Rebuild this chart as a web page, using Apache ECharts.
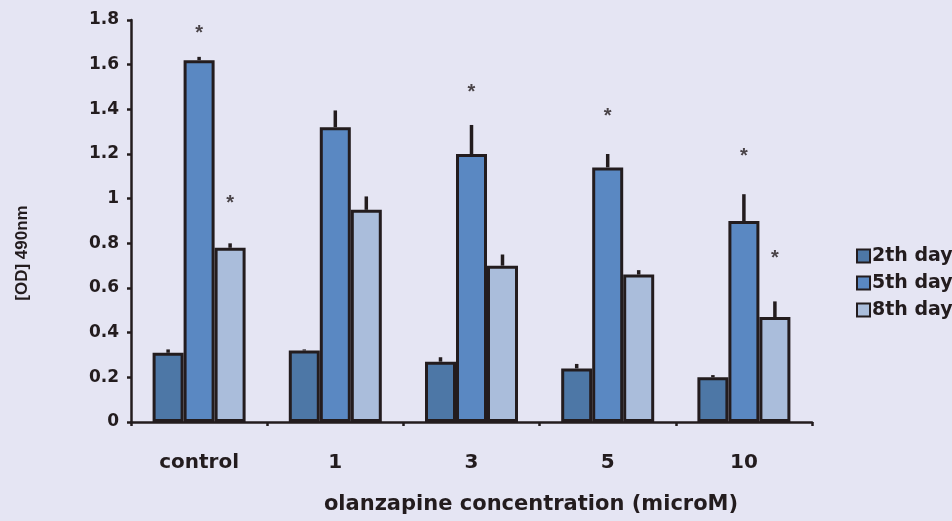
<!DOCTYPE html>
<html>
<head>
<meta charset="utf-8">
<script src="https://cdn.jsdelivr.net/npm/echarts@6/dist/echarts.min.js"></script>
<style>
html,body{margin:0;padding:0;background:#e5e5f3;}
#c{width:952px;height:521px;}
</style>
</head>
<body>
<div id="c"></div>
<script>
var categories = ['control', '1', '3', '5', '10'];
var seriesNames = ['2th day', '5th day', '8th day'];
var day2 = [0.31, 0.32, 0.27, 0.24, 0.20];
var day5 = [1.62, 1.32, 1.20, 1.14, 0.90];
var day8 = [0.78, 0.95, 0.70, 0.66, 0.47];
var err2 = [0.015, 0.005, 0.02, 0.02, 0.01];
var err5 = [0.015, 0.075, 0.13, 0.06, 0.12];
var err8 = [0.02, 0.06, 0.05, 0.02, 0.07];
var star5 = [1.76, null, 1.50, 1.39, 1.21];
var star8 = [1.00, null, null, null, 0.755];
var yTicks = [0, 0.2, 0.4, 0.6, 0.8, 1, 1.2, 1.4, 1.6, 1.8];
var xTitle = 'olanzapine concentration (microM)';
var yTitle = '[OD] 490nm';

var colors = ['#4d77a6', '#5a88c2', '#aabddb'];
var BW = 31;
var ink = '#231c1e';
var wide = '"DejaVu Sans", sans-serif';
var arial = '"Liberation Sans", Arial, sans-serif';

var chart = echarts.init(document.getElementById('c'));

function barSeries(i, data) {
  return {
    type: 'bar', name: seriesNames[i], data: data,
    barWidth: BW, barGap: '0%',
    itemStyle: { color: colors[i], borderColor: ink, borderWidth: 3 },
    z: 2
  };
}
function errSeries(i, vals, errs) {
  var d = vals.map(function (v, k) { return [k, v, errs[k]]; });
  return {
    type: 'custom', data: d, z: 3, silent: true,
    renderItem: function (params, api) {
      var k = api.value(0), v = api.value(1), e = api.value(2);
      var p0 = api.coord([k, v]);
      var p1 = api.coord([k, v + e]);
      var x = p0[0] + (i - 1) * BW;
      return { type: 'line', shape: { x1: x, y1: p0[1], x2: x, y2: p1[1] },
        style: { stroke: ink, lineWidth: 3.5 } };
    }
  };
}
function starSeries(i, vals) {
  var d = [];
  vals.forEach(function (v, k) { if (v != null) d.push([k, v]); });
  return {
    type: 'custom', data: d, z: 4, silent: true,
    renderItem: function (params, api) {
      var p = api.coord([api.value(0), api.value(1)]);
      return { type: 'text', x: p[0] + (i - 1) * BW, y: p[1] + 5,
        style: { text: '*', fill: '#4a4448', font: 'bold 20px ' + arial, align: 'center', verticalAlign: 'middle' } };
    }
  };
}

chart.setOption({
  backgroundColor: '#e5e5f3',
  animation: false,
  grid: { left: 131, right: 140, top: 20, bottom: 99 },
  legend: {
    orient: 'vertical', left: 851, top: 241,
    itemWidth: 13, itemHeight: 13, itemGap: 7,
    textStyle: { fontFamily: wide, fontWeight: 'bold', fontSize: 19, lineHeight: 20, color: ink, padding: [0, 0, 0, -3] },
    data: seriesNames.map(function (n) { return { name: n, icon: 'rect' }; })
  },
  xAxis: {
    type: 'category', data: categories,
    axisLine: { lineStyle: { color: ink, width: 2.5 } },
    axisTick: { show: true, alignWithLabel: false, length: 4, lineStyle: { color: ink, width: 2.5 } },
    axisLabel: { fontFamily: wide, fontWeight: 'bold', fontSize: 20, color: ink, margin: 31 }
  },
  yAxis: {
    type: 'value', min: 0, max: 1.8, interval: 0.2,
    axisLine: { show: true, lineStyle: { color: ink, width: 2.5 } },
    axisTick: { show: true, length: 4, lineStyle: { color: ink, width: 2.5 } },
    splitLine: { show: false },
    axisLabel: { fontFamily: wide, fontWeight: 'bold', fontSize: 17, color: ink, margin: 12,
      formatter: function (v) { var r = Math.round(v * 10) / 10; return yTicks.indexOf(r) >= 0 ? String(r) : ''; } }
  },
  graphic: [{
    type: 'text', x: 531, y: 505,
    style: { text: xTitle, font: 'bold 21px ' + wide, fill: ink, align: 'center', verticalAlign: 'middle' }
  }, {
    type: 'text', x: 22, y: 253, rotation: Math.PI / 2,
    style: { text: yTitle, font: 'bold 17px ' + arial, fill: ink, align: 'center', verticalAlign: 'middle' }
  }],
  series: [
    barSeries(0, day2), barSeries(1, day5), barSeries(2, day8),
    errSeries(0, day2, err2), errSeries(1, day5, err5), errSeries(2, day8, err8),
    starSeries(1, star5), starSeries(2, star8)
  ]
});
</script>
</body>
</html>
